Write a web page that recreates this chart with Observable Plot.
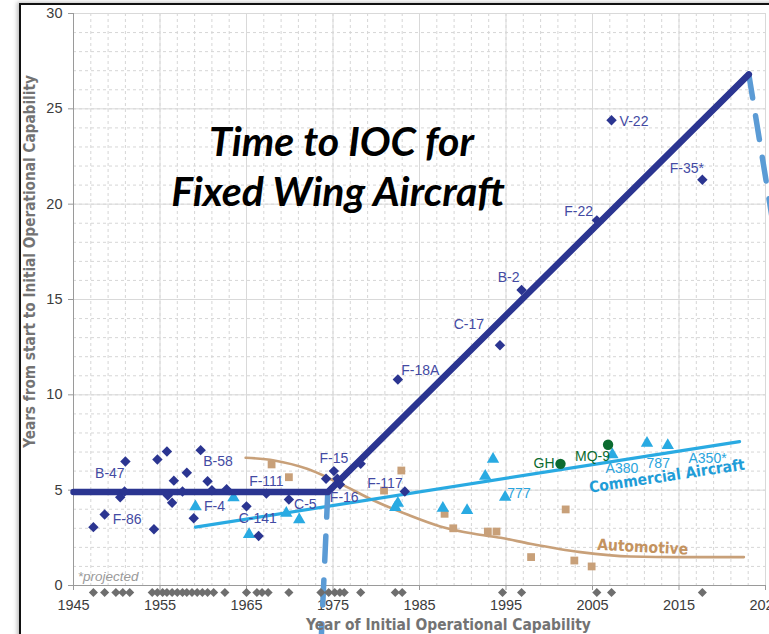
<!DOCTYPE html>
<html><head><meta charset="utf-8">
<script src="https://cdn.jsdelivr.net/npm/d3@7"></script>
<script src="https://cdn.jsdelivr.net/npm/@observablehq/plot@0.6"></script>
<style>
body{margin:0;background:#fff;}
#wrap{position:relative;width:769px;height:634px;overflow:hidden;background:#fff;}
#frame{position:absolute;left:19px;top:3px;width:800px;height:700px;border-left:2px solid #111;border-top:2px solid #111;box-shadow:-2px -1px 4px rgba(0,0,0,0.25);pointer-events:none;}
#wrap svg{position:absolute;left:0;top:0;}
</style></head><body><div id="wrap"><div id="frame"></div></div>
<script>
// ---- Military fixed-wing aircraft (navy diamonds) ----
const fighterYears = [1947.3,1948.6,1950.4,1950.9,1951.0,1954.3,1954.7,1955.8,1955.9,1956.4,1956.6,1957.6,1958.1,1958.9,1959.7,1960.5,1961.0,1962.7,1965.0,1966.4,1967.3,1969.9,1974.2,1975.1,1975.5,1975.8,1978.2,1982.5,1983.3,1994.3,1996.8,2005.5,2007.2,2017.7];
const fighterValues = [3.06,3.72,4.63,4.93,6.5,2.95,6.61,7.03,4.72,4.34,5.5,4.93,5.91,3.53,7.1,5.47,5.0,5.05,4.15,2.6,4.82,4.51,5.6,6.0,5.6,5.3,6.38,10.8,4.93,12.6,15.5,19.15,24.4,21.28];
const fighterLabels = ["B-47","F-86","B-58","F-4","F-111","C-141","C-5","F-15","F-16","F-117","F-18A","C-17","B-2","F-22","V-22","F-35*"];
const fighterLabelYears = [1949.2,1951.2,1961.7,1961.3,1967.3,1966.3,1971.8,1975.1,1976.3,1981.0,1985.1,1990.7,1995.3,2003.4,2009.8,2015.9];
const fighterLabelValues = [5.86,3.46,6.52,4.16,5.46,3.52,4.27,6.65,4.63,5.37,11.28,13.68,16.14,19.64,24.36,21.86];
const fighterTrendYears = [1945,1974.4,2023.07];
const fighterTrendValues = [4.9,4.9,26.81];

// ---- IOC years marked along the axis (grey diamonds) ----
const iocMarkYears = [1947.3,1948.6,1949.9,1950.7,1951.5,1954.1,1954.7,1955.3,1955.8,1956.4,1957.0,1957.6,1958.1,1958.7,1959.3,1959.9,1960.5,1961.2,1962.5,1965.0,1966.2,1966.8,1967.5,1969.9,1973.6,1974.5,1975.2,1975.8,1976.3,1978.2,1982.2,1983.0,1994.6,1996.8,2005.5,2007.2,2017.7];
const iocMarkValue = -0.37;

// ---- Projection lines (dashed) ----
const projLowYears = [1974.4,1973.6];
const projLowValues = [4.9,-3.2];
const projHighYears = [2023.07,2025.9];
const projHighValues = [26.81,18.9];

// ---- Commercial aircraft (light blue triangles) ----
const commercialYears = [1959.1,1963.5,1965.3,1969.6,1971.1,1982.2,1982.5,1987.7,1990.5,1992.6,1993.5,1994.9,2007.3,2011.3,2013.7];
const commercialValues = [4.14,4.6,2.68,3.79,3.45,4.1,4.32,4.06,3.94,5.74,6.63,4.63,6.86,7.47,7.35];
const commercialLabels = ["777","A380","787","A350*"];
const commercialLabelYears = [1996.5,2008.4,2012.6,2018.3];
const commercialLabelValues = [4.84,6.12,6.39,6.68];
const commercialTrendYears = [1959.1,2022.0];
const commercialTrendValues = [3.06,7.55];

// ---- UAVs (green circles) ----
const uavYears = [2001.3,2006.8];
const uavValues = [6.38,7.38];
const uavLabels = ["GH","MQ-9"];
const uavLabelYears = [1999.4,2005.0];
const uavLabelValues = [6.42,6.78];

// ---- Automotive (tan squares) ----
const autoYears = [1967.9,1969.9,1980.9,1982.9,1987.9,1988.9,1992.9,1993.9,1997.9,2001.9,2002.9,2004.9];
const autoValues = [6.35,5.68,4.98,6.03,3.76,3.0,2.83,2.83,1.49,3.99,1.31,1.0];
const autoTrendYears = [1964.9,1968.2,1972.0,1974.3,1975.9,1979.7,1983.6,1987.4,1991.3,1994.4,1997.8,2003.6,2009.4,2015.2,2022.5];
const autoTrendValues = [6.7,6.56,6.12,5.68,5.33,4.46,3.72,3.1,2.71,2.5,2.19,1.75,1.52,1.49,1.49];

// ---- Axis ticks ----
const xTicks = [1945,1955,1965,1975,1985,1995,2005,2015,2025];
const yTicks = [0,5,10,15,20,25,30];
const xMinor = d3.range(1947,2025,2);
const yMinor = d3.range(1,30,1);

const zip = (xs, ys, extra) => xs.map((x, i) => ({x, y: ys[i], t: extra ? extra[i] : null}));

const NAVY = "#2b3591", NAVY_TXT = "#434aa3", LBLUE = "#29aae2", LBLUE_TXT = "#2aa4dd";
const GREEN = "#0b6b30", TAN = "#c8a079", TAN_TXT = "#c4935f", DASH = "#5b9bd5";
const SANS = "'Liberation Sans', Arial, sans-serif";
const NARROW = "'Liberation Sans Narrow', 'DejaVu Sans Condensed', 'Roboto Condensed', sans-serif";
const TITLE_FONT = "Lato, 'Open Sans', sans-serif";

const chart = Plot.plot({
  width: 769, height: 634,
  marginLeft: 73, marginRight: 4, marginTop: 13, marginBottom: 49,
  x: {domain: [1945, 2025], axis: null},
  y: {domain: [0, 30], axis: null},
  style: {fontFamily: SANS, fontSize: "14px", background: "transparent", color: "#404040", overflow: "visible"},
  marks: [
    Plot.gridX(xMinor, {stroke: "#d6d6d6", strokeOpacity: 1, strokeDasharray: "3,3"}),
    Plot.gridY(yMinor, {stroke: "#d6d6d6", strokeOpacity: 1, strokeDasharray: "3,3"}),
    Plot.gridX(xTicks, {stroke: "#d9d9d9", strokeOpacity: 1}),
    Plot.gridY(yTicks, {stroke: "#d9d9d9", strokeOpacity: 1}),
    Plot.ruleX([1945], {stroke: "#9a9a9a"}),
    Plot.ruleY([0], {stroke: "#9a9a9a"}),
    Plot.axisX(xTicks, {tickFormat: d => String(d), tickSize: 5, tickPadding: 9, stroke: "#9a9a9a", fill: "#3c3c3c", fontSize: 14.5, label: null}),
    Plot.axisY(yTicks, {tickSize: 5, tickPadding: 6, stroke: "#9a9a9a", fill: "#3c3c3c", fontSize: 14.5, label: null}),
    // automotive
    Plot.line(zip(autoTrendYears, autoTrendValues), {x: "x", y: "y", stroke: TAN, strokeWidth: 2.6, curve: "monotone-x"}),
    Plot.dot(zip(autoYears, autoValues), {x: "x", y: "y", symbol: "square", r: 4.4, fill: TAN, stroke: "none"}),
    // commercial
    Plot.line(zip(commercialTrendYears, commercialTrendValues), {x: "x", y: "y", stroke: LBLUE, strokeWidth: 3.2}),
    Plot.dot(zip(commercialYears, commercialValues), {x: "x", y: "y", symbol: "triangle", r: 4.6, fill: LBLUE, stroke: "none"}),
    // UAV
    Plot.dot(zip(uavYears, uavValues), {x: "x", y: "y", symbol: "circle", r: 5.2, fill: GREEN, stroke: "none"}),
    // projections
    Plot.line(zip(projLowYears, projLowValues), {x: "x", y: "y", stroke: DASH, strokeWidth: 5.5, strokeDasharray: "25,19"}),
    Plot.line(zip(projHighYears, projHighValues), {x: "x", y: "y", stroke: DASH, strokeWidth: 5.5, strokeDasharray: "24,18"}),
    // military trend + points
    Plot.line(zip(fighterTrendYears, fighterTrendValues), {x: "x", y: "y", stroke: NAVY, strokeWidth: 6.5, strokeLinecap: "round"}),
    Plot.dot(zip(fighterYears, fighterValues), {x: "x", y: "y", symbol: "diamond2", r: 4.7, fill: NAVY, stroke: "none"}),
    Plot.dot(iocMarkYears, {x: d => d, y: () => iocMarkValue, symbol: "diamond2", r: 4.1, fill: "#6e6e6e", stroke: "none"}),
    // labels
    Plot.text(zip(fighterLabelYears, fighterLabelValues, fighterLabels), {x: "x", y: "y", text: "t", fill: NAVY_TXT, fontSize: 14}),
    Plot.text(zip(commercialLabelYears, commercialLabelValues, commercialLabels), {x: "x", y: "y", text: "t", fill: LBLUE_TXT, fontSize: 14}),
    Plot.text(zip(uavLabelYears, uavLabelValues, uavLabels), {x: "x", y: "y", text: "t", fill: GREEN, fontSize: 14}),
    Plot.text(["Commercial Aircraft"], {x: 2013.6, y: 5.73, text: d => d, fill: "#1f9dd8", fontSize: 15.5, fontWeight: "bold", fontFamily: NARROW, rotate: -8.5}),
    Plot.text(["Automotive"], {x: 2010.8, y: 2.01, text: d => d, fill: TAN_TXT, fontSize: 15.5, fontWeight: "bold", fontFamily: NARROW, rotate: 3}),
    Plot.text(["*projected"], {x: 1945.5, y: 0.44, text: d => d, fill: "#9a9a9a", fontSize: 13.5, fontStyle: "italic", textAnchor: "start"}),
    // title
    Plot.text(["Time to IOC for"], {frameAnchor: "top-left", dx: 268, dy: 129, textAnchor: "middle", lineAnchor: "middle", text: d => d, fill: "#000", fontSize: 41, fontWeight: "bold", fontStyle: "italic", fontFamily: TITLE_FONT}),
    Plot.text(["Fixed Wing Aircraft"], {frameAnchor: "top-left", dx: 264.5, dy: 179, textAnchor: "middle", lineAnchor: "middle", text: d => d, fill: "#000", fontSize: 41, fontWeight: "bold", fontStyle: "italic", fontFamily: TITLE_FONT}),
    // axis titles
    Plot.text(["Year of Initial Operational Capability"], {frameAnchor: "bottom", dx: 29, dy: 40, textAnchor: "middle", lineAnchor: "middle", text: d => d, fill: "#737373", fontSize: 15.4, fontWeight: "bold", fontFamily: NARROW}),
    Plot.text(["Years from start to Initial Operational Capability"], {frameAnchor: "left", dx: -43, dy: -38, rotate: -90, textAnchor: "middle", lineAnchor: "middle", text: d => d, fill: "#737373", fontSize: 15.2, fontWeight: "bold", fontFamily: NARROW})
  ]
});
document.getElementById("wrap").appendChild(chart);
</script></body></html>
